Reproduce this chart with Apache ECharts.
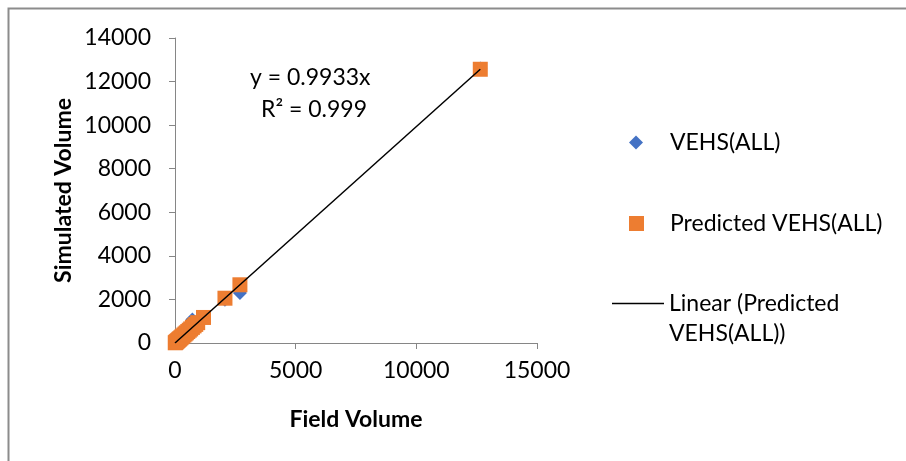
<!DOCTYPE html>
<html>
<head>
<meta charset="utf-8">
<script src="https://cdn.jsdelivr.net/npm/echarts@6/dist/echarts.min.js"></script>
<style>
  html, body { margin: 0; padding: 0; background: #fff; }
  #chart { width: 906px; height: 461px; }
</style>
</head>
<body>
<div id="chart"></div>
<script>
// field counts vs simulated / predicted volumes
var fieldVolume = [10, 30, 55, 80, 110, 140, 170, 200, 240, 280, 320, 370, 420, 470, 530, 590, 650, 720, 790, 860, 940, 1180, 2070, 2690, 12650];
var simulatedVolume = [20, 60, 40, 110, 90, 170, 150, 240, 220, 320, 300, 410, 400, 500, 520, 630, 620, 1080, 760, 900, 930, 1150, 1990, 2300, 12600];
var predictedVolume = [10, 30, 55, 79, 109, 139, 169, 199, 238, 278, 318, 368, 417, 467, 526, 586, 646, 715, 785, 854, 934, 1172, 2056, 2672, 12565];
var trendX = [0, 12650];
var trendY = [0, 12565];
var xTicks = [0, 5000, 10000, 15000];
var yTicks = [0, 2000, 4000, 6000, 8000, 10000, 12000, 14000];

var font = "Lato";
var fsize = 23;
var axisGray = "#868686";

function pairs(xs, ys) {
  var out = [];
  for (var i = 0; i < xs.length; i++) out.push([xs[i], ys[i]]);
  return out;
}

var myChart = echarts.init(document.getElementById("chart"));

var option = {
  animation: false,
  backgroundColor: "#fff",
  textStyle: { fontFamily: font },
  grid: { left: 175, top: 38, right: 369, bottom: 118 },
  xAxis: {
    type: "value",
    min: xTicks[0],
    max: xTicks[xTicks.length - 1],
    interval: 5000,
    name: "Field Volume",
    nameLocation: "middle",
    nameGap: 65,
    nameTextStyle: { fontFamily: font, fontSize: fsize, fontWeight: "bold", color: "#000" },
    axisLine: { lineStyle: { color: axisGray, width: 1 } },
    axisTick: { show: true, length: 6, lineStyle: { color: axisGray } },
    axisLabel: { margin: 16, fontSize: fsize, color: "#000", fontFamily: font, formatter: function (v) { return String(v); } },
    splitLine: { show: false }
  },
  yAxis: {
    type: "value",
    min: yTicks[0],
    max: yTicks[yTicks.length - 1],
    interval: 2000,
    name: "Simulated Volume",
    nameLocation: "middle",
    nameGap: 100,
    nameTextStyle: { fontFamily: font, fontSize: fsize, fontWeight: "bold", color: "#000" },
    axisLine: { show: true, lineStyle: { color: axisGray, width: 1 } },
    axisTick: { show: true, length: 6, lineStyle: { color: axisGray } },
    axisLabel: { margin: 24, fontSize: fsize, color: "#000", fontFamily: font, formatter: function (v) { return String(v); } },
    splitLine: { show: false }
  },
  legend: [
    {
      data: [{ name: "VEHS(ALL)", icon: "diamond" }],
      left: 624, top: 126,
      itemWidth: 14, itemHeight: 14,
      itemStyle: { opacity: 1 },
      textStyle: { fontSize: fsize, color: "#000", fontFamily: font, padding: [0, 0, 0, 22] }
    },
    {
      data: [{ name: "Predicted VEHS(ALL)", icon: "rect" }],
      left: 624, top: 207,
      itemWidth: 15, itemHeight: 15,
      itemStyle: { opacity: 1 },
      textStyle: { fontSize: fsize, color: "#000", fontFamily: font, padding: [0, 0, 0, 21] }
    },
    {
      data: [{ name: "Linear (Predicted VEHS(ALL))", icon: "rect" }],
      left: 607, top: 287,
      itemWidth: 52, itemHeight: 1.5,
      itemStyle: { color: "#000", opacity: 1 },
      formatter: function () { return "Linear (Predicted"; },
      textStyle: { fontSize: fsize, color: "#000", fontFamily: font }
    }
  ],
  series: [
    {
      name: "VEHS(ALL)",
      type: "scatter",
      symbol: "diamond",
      symbolSize: 14,
      itemStyle: { color: "#4472C4", opacity: 1 },
      data: pairs(fieldVolume, simulatedVolume)
    },
    {
      name: "Predicted VEHS(ALL)",
      type: "scatter",
      symbol: "rect",
      symbolSize: 15,
      itemStyle: { color: "#ED7D31", opacity: 1 },
      data: pairs(fieldVolume, predictedVolume)
    },
    {
      name: "Linear (Predicted VEHS(ALL))",
      type: "line",
      showSymbol: false,
      symbol: "none",
      lineStyle: { color: "#000", width: 1.5 },
      itemStyle: { color: "#000" },
      data: pairs(trendX, trendY),
      z: 5
    }
  ],
  graphic: [
    {
      type: "rect",
      shape: { x: 8.5, y: 8.5, width: 1000, height: 1000 },
      style: { fill: null, stroke: "#8c8c8c", lineWidth: 2 },
      silent: true
    },
    {
      type: "text",
      left: 250, top: 66,
      style: { text: "y = 0.9933x", font: fsize + "px " + font, fill: "#000" }
    },
    {
      type: "text",
      left: 261, top: 98,
      style: { text: "R² = 0.999", font: fsize + "px " + font, fill: "#000" }
    },
    {
      type: "text",
      left: 669, top: 322,
      style: { text: "VEHS(ALL))", font: fsize + "px " + font, fill: "#000" }
    }
  ]
};

option && myChart.setOption(option);
</script>
</body>
</html>
